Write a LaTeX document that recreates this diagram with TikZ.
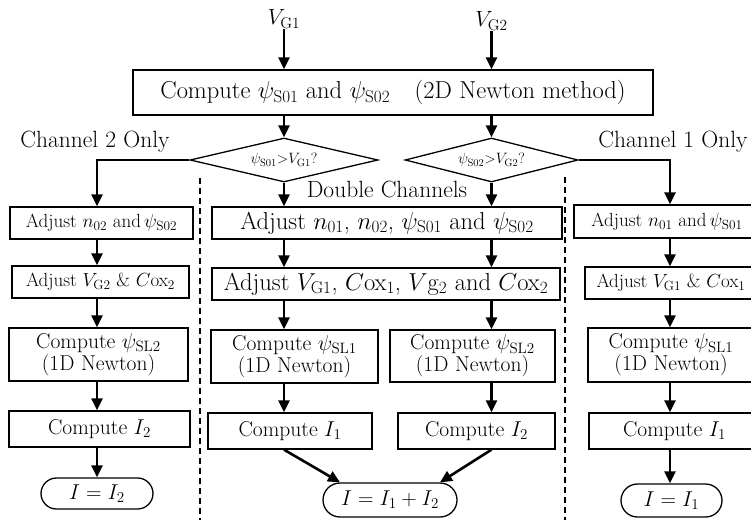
\RequirePackage{fix-cm}
\documentclass[tikz,border=0pt]{standalone}
\usetikzlibrary{arrows.meta,shapes.geometric,shapes.misc}

\tikzset{
  fbox/.style={draw, line width=1.3pt, inner sep=0pt, align=center},
  term/.style={draw, rounded rectangle, line width=1.3pt, inner sep=0pt},
  decide/.style={draw, diamond, aspect=4.2, line width=1.3pt, inner sep=0pt},
  flow/.style={line width=2.6pt, -{Triangle[length=12pt,width=11pt]}},
  branch/.style={line width=2.8pt, -{Triangle[length=12pt,width=11pt]}},
  divider/.style={line width=1.2pt, dash pattern=on 6pt off 4pt},
  fbig/.style={font=\fontsize{24.5}{28}\selectfont},
  fmid/.style={font=\fontsize{23.5}{27}\selectfont},
  fside/.style={font=\fontsize{19}{22}\selectfont},
  fcomp/.style={font=\fontsize{21.5}{22}\selectfont},
  fsmall/.style={font=\fontsize{15}{18}\selectfont},
  fin/.style={font=\fontsize{22}{25}\selectfont},
}

\begin{document}
\begin{tikzpicture}[x=1pt, y=-1pt]
  \useasboundingbox (0,0) rectangle (751,520);
  \fill[white] (0,0) rectangle (751,520);
  \clip (0,0) rectangle (751,520);

  % column axes
  \coordinate (lx) at (97,0);
  \coordinate (rx) at (670,0);
  \coordinate (mxa) at (284,0);
  \coordinate (mxb) at (491.5,0);

  % inputs and the coupled solve
  \node[fin, inner sep=1pt] (vg1) at (284,19) {$V_{\mathrm{G1}}$};
  \node[fin, inner sep=1pt] (vg2) at (491.5,21) {$V_{\mathrm{G2}}$};
  \node[fbox, fbig, minimum width=520pt, minimum height=45pt] (top) at (393,92.5)
    {Compute $\psi_{\mathrm{S01}}$ and $\psi_{\mathrm{S02}}$\quad(2D Newton method)};

  % decisions
  \node[decide, fsmall, minimum width=188pt, minimum height=44pt] (d1) at (284,160)
    {$\psi_{\mathrm{S01}}{>}V_{\mathrm{G1}}$?};
  \node[decide, fsmall, minimum width=173pt, minimum height=44pt] (d2) at (491.5,160)
    {$\psi_{\mathrm{S02}}{>}V_{\mathrm{G2}}$?};

  \node[fmid] (lab2) at (95,142) {Channel 2 Only};
  \node[fmid] (lab1) at (673,142) {Channel 1 Only};
  \node[fmid] (labd) at (387,189) {Double Channels};

  % left column: channel 2 only
  \node[fbox, fside, minimum width=183pt, minimum height=32pt] (ladj) at (101.5,223)
    {Adjust $n_{02}$ and\,$\psi_{\mathrm{S02}}$};
  \node[fbox, fside, minimum width=177pt, minimum height=32pt] (lvg) at (100.5,282)
    {Adjust $V_{\mathrm{G2}}$ \& $C$ox$_2$};
  \node[fbox, fcomp, minimum width=179pt, minimum height=53pt] (lpsi) at (98.5,354.5)
    {Compute $\psi_{\mathrm{SL2}}$\\(1D Newton)};
  \node[fbox, fcomp, minimum width=181pt, minimum height=36pt] (lcur) at (99.5,429)
    {Compute $I_2$};
  \node[term, fcomp, minimum width=112pt, minimum height=31pt] (lend) at (97,493.5)
    {$I = I_2$};

  % middle column: double channels
  \node[fbox, fbig, minimum width=350pt, minimum height=32pt] (madj) at (387,223)
    {Adjust $n_{01}$, $n_{02}$, $\psi_{\mathrm{S01}}$ and $\psi_{\mathrm{S02}}$};
  \node[fbox, fbig, minimum width=348pt, minimum height=32pt] (mvg) at (386,284)
    {Adjust $V_{\mathrm{G1}}$, $C$ox$_1$, $V$g$_2$ and $C$ox$_2$};
  \node[fbox, fcomp, minimum width=167pt, minimum height=53pt] (mpsia) at (294.5,356.5)
    {Compute $\psi_{\mathrm{SL1}}$\\(1D Newton)};
  \node[fbox, fcomp, minimum width=165pt, minimum height=52pt] (mpsib) at (472.5,356)
    {Compute $\psi_{\mathrm{SL2}}$\\(1D Newton)};
  \node[fbox, fcomp, minimum width=164pt, minimum height=36pt] (mcura) at (290,431)
    {Compute $I_1$};
  \node[fbox, fcomp, minimum width=157pt, minimum height=36pt] (mcurb) at (476.5,431)
    {Compute $I_2$};
  \node[term, fcomp, minimum width=134pt, minimum height=34pt] (mend) at (390,500)
    {$I = I_1 + I_2$};

  % right column: channel 1 only
  \node[fbox, fside, minimum width=186pt, minimum height=33pt] (radj) at (667,221.5)
    {Adjust $n_{01}$ and\,$\psi_{\mathrm{S01}}$};
  \node[fbox, fside, minimum width=172pt, minimum height=32pt] (rvg) at (671,283)
    {Adjust $V_{\mathrm{G1}}$ \& $C$ox$_1$};
  \node[fbox, fcomp, minimum width=166pt, minimum height=54pt] (rpsi) at (671,355)
    {Compute $\psi_{\mathrm{SL1}}$\\(1D Newton)};
  \node[fbox, fcomp, minimum width=171pt, minimum height=36pt] (rcur) at (674.5,431)
    {Compute $I_1$};
  \node[term, fcomp, minimum width=101pt, minimum height=33pt] (rend) at (671.5,500.5)
    {$I = I_1$};

  % dividers between the cases
  \draw[divider] (200,178) -- (200,520);
  \draw[divider] (565,177) -- (565,520);

  % inputs into the solver and on to the decisions
  \draw[flow] (vg1.south) -- (vg1.south |- top.north);
  \draw[flow] (vg2.south) -- (vg2.south |- top.north);
  \draw[flow] (top.south -| d1.north) -- (d1.north);
  \draw[flow] (top.south -| d2.north) -- (d2.north);

  % single-channel branches
  \draw[branch] (d1.west) -| (ladj.north -| lx);
  \draw[branch] (d2.east) -| (radj.north -| rx);

  % double-channel branch
  \draw[flow] (d1.south) -- (madj.north -| mxa);
  \draw[flow] (d2.south) -- (madj.north -| mxb);
  \draw[flow] (madj.south -| mxa) -- (mvg.north -| mxa);
  \draw[flow] (madj.south -| mxb) -- (mvg.north -| mxb);
  \draw[flow] (mvg.south -| mxa) -- (mpsia.north -| mxa);
  \draw[flow] (mvg.south -| mxb) -- (mpsib.north -| mxb);
  \draw[flow] (mpsia.south -| mxa) -- (mcura.north -| mxa);
  \draw[flow] (mpsib.south -| mxb) -- (mcurb.north -| mxb);
  \draw[flow] (mcura.south -| mxa) -- (mend.north west);
  \draw[flow] (mcurb.south -| mxb) -- (mend.north east);

  % left chain
  \draw[flow] (ladj.south -| lx) -- (lvg.north -| lx);
  \draw[flow] (lvg.south -| lx) -- (lpsi.north -| lx);
  \draw[flow] (lpsi.south -| lx) -- (lcur.north -| lx);
  \draw[flow] (lcur.south -| lx) -- (lend.north -| lx);

  % right chain
  \draw[flow] (radj.south -| rx) -- (rvg.north -| rx);
  \draw[flow] (rvg.south -| rx) -- (rpsi.north -| rx);
  \draw[flow] (rpsi.south -| rx) -- (rcur.north -| rx);
  \draw[flow] (rcur.south -| rx) -- (rend.north -| rx);
\end{tikzpicture}
\end{document}
